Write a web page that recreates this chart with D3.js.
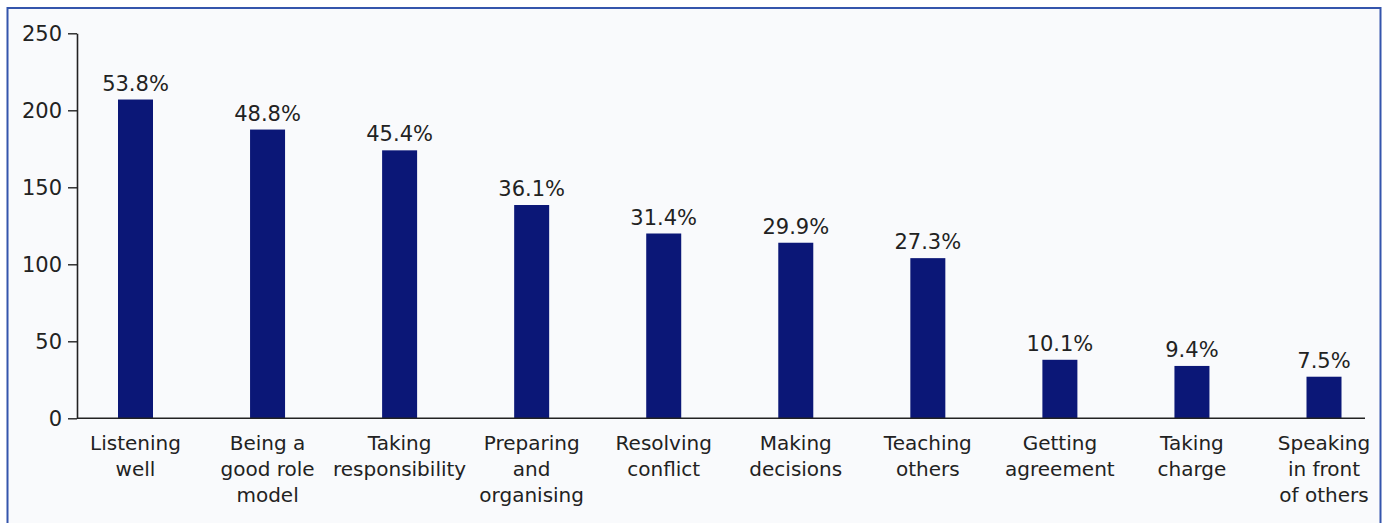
<!DOCTYPE html>
<html>
<head>
<meta charset="utf-8">
<script src="https://cdn.jsdelivr.net/npm/d3@7"></script>
<style>
  html, body { margin: 0; padding: 0; background: #ffffff; }
  svg { display: block; }
  text { font-family: "DejaVu Sans", sans-serif; fill: #222222; }
</style>
</head>
<body>
<svg id="chart" width="1387" height="523"></svg>
<script>
// Leadership skills: number of respondents per skill, with share of respondents
const categories = [
  ["Listening", "well"],
  ["Being a", "good role", "model"],
  ["Taking", "responsibility"],
  ["Preparing", "and", "organising"],
  ["Resolving", "conflict"],
  ["Making", "decisions"],
  ["Teaching", "others"],
  ["Getting", "agreement"],
  ["Taking", "charge"],
  ["Speaking", "in front", "of others"]
];
const counts = [207, 187.5, 174, 138.5, 120, 114, 104, 38, 34, 27];
const percentLabels = ["53.8%", "48.8%", "45.4%", "36.1%", "31.4%", "29.9%", "27.3%", "10.1%", "9.4%", "7.5%"];
const yTicks = [0, 50, 100, 150, 200, 250];

const svg = d3.select("#chart");
const FONT = '"DejaVu Sans", sans-serif';

// Framed panel
svg.append("rect")
  .attr("x", 7.5).attr("y", 8)
  .attr("width", 1373).attr("height", 530)
  .attr("fill", "#f9fafc")
  .attr("stroke", "#3455ac")
  .attr("stroke-width", 2);

const axisLeft = 77, axisRight = 1365;
const y = d3.scaleLinear().domain([0, 250]).range([418.3, 33.3]);
const idx = d3.range(categories.length);
const x = d3.scalePoint().domain(idx).range([135.5, 1324]);
const barW = 35;

// Bars
svg.append("g").selectAll("rect")
  .data(idx)
  .join("rect")
  .attr("x", i => x(i) - barW / 2)
  .attr("y", i => y(counts[i]))
  .attr("width", barW)
  .attr("height", i => y(0) - y(counts[i]))
  .attr("fill", "#0b1777");

// Value labels
svg.append("g").selectAll("text")
  .data(idx)
  .join("text")
  .attr("x", i => x(i))
  .attr("y", i => y(counts[i]) - 9)
  .attr("text-anchor", "middle")
  .attr("font-size", 21)
  .text(i => percentLabels[i]);

// Y axis
const yAxis = d3.axisLeft(y).tickValues(yTicks).tickSize(9).tickPadding(6).tickSizeOuter(0);
const gy = svg.append("g").attr("transform", `translate(${axisLeft},0)`).call(yAxis);
gy.select(".domain").attr("stroke", "#222").attr("stroke-width", 1.6);
gy.selectAll(".tick line").attr("stroke", "#222").attr("stroke-width", 1.4);
gy.selectAll(".tick text").attr("font-size", 21).attr("fill", "#222")
  .attr("font-family", FONT);

// X axis baseline
svg.append("line")
  .attr("x1", axisLeft).attr("x2", axisRight)
  .attr("y1", y(0)).attr("y2", y(0))
  .attr("stroke", "#222").attr("stroke-width", 1.6);

// Category labels
const cat = svg.append("g").selectAll("text")
  .data(idx)
  .join("text")
  .attr("text-anchor", "middle")
  .attr("font-size", 20);
cat.each(function(i) {
  const t = d3.select(this);
  categories[i].forEach((line, k) => {
    t.append("tspan")
      .attr("x", x(i))
      .attr("y", 450 + k * 26)
      .text(line);
  });
});
</script>
</body>
</html>
